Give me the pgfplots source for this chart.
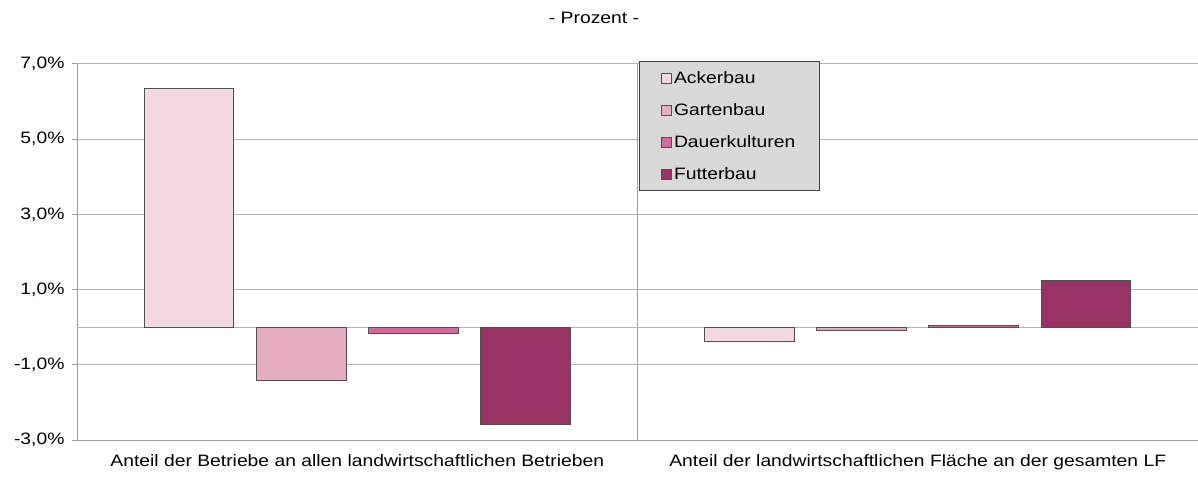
\documentclass[border=0pt]{standalone}
\usepackage{fontspec}
\setmainfont[FakeStretch=1.17]{Liberation Sans}
\usepackage{pgfplots}
\pgfplotsset{compat=1.18}
\definecolor{cAcker}{HTML}{F3D8E2}
\definecolor{cGarten}{HTML}{E4AEBE}
\definecolor{cDauer}{HTML}{D06B9C}
\definecolor{cFutter}{HTML}{993366}
\definecolor{gridc}{HTML}{B4B4B4}
\definecolor{axisc}{HTML}{A0A0A0}
\definecolor{legbg}{HTML}{D9D9D9}
\definecolor{barline}{HTML}{505050}
\begin{document}
\begin{tikzpicture}
\begin{axis}[
  name=ax,
  scale only axis,
  width=1121pt, height=376pt,
  xmin=-0.5, xmax=1.5,
  ymin=-3, ymax=7,
  axis x line*=bottom,
  axis y line*=left,
  axis line style={draw=axisc, line width=1pt},
  xtick={0,1},
  xticklabels={Anteil der Betriebe an allen landwirtschaftlichen Betrieben, Anteil der landwirtschaftlichen Fläche an der gesamten LF},
  x tick style={draw=none},
  ytick={-3,-1,1,3,5,7},
  yticklabels={{-3,0\%},{-1,0\%},{1,0\%},{3,0\%},{5,0\%},{7,0\%}},
  tick align=outside,
  major tick length=5pt,
  y tick style={draw=axisc, line width=1pt},
  ymajorgrids,
  grid style={draw=gridc, line width=1pt},
  extra y ticks={0},
  extra y tick labels={},
  extra y tick style={major tick length=0pt, grid=major},
  ticklabel style={font=\fontsize{16.5}{19}\selectfont, text=black},
  yticklabel style={xshift=-4pt},
  xticklabel style={yshift=-6pt},
  legend style={
    at={(rel axis cs:0.5013,1.008)}, anchor=north west,
    fill=legbg, draw=black!75, line width=1pt,
    font=\fontsize{16.5}{19}\selectfont,
    inner xsep=22pt, inner ysep=8pt,
    row sep=14.5pt,
    cells={anchor=west},
  },
  legend image code/.code={\draw[#1, line width=0.6pt] (0pt,-5pt) rectangle (10pt,5pt);},
  clip=false,
]
\draw[draw=axisc, line width=1pt] (axis cs:0.5,-3) -- (axis cs:0.5,7);
\addplot[ybar, bar width=0.16, bar shift=-0.3, fill=cAcker, draw=barline, line width=1pt]
  coordinates {(0,6.36) (1,-0.37)};
\addplot[ybar, bar width=0.16, bar shift=-0.1, fill=cGarten, draw=barline, line width=1pt]
  coordinates {(0,-1.43) (1,-0.08)};
\addplot[ybar, bar width=0.16, bar shift=0.1, fill=cDauer, draw=barline, line width=1pt]
  coordinates {(0,-0.16) (1,0.04)};
\addplot[ybar, bar width=0.16, bar shift=0.3, fill=cFutter, draw=barline, line width=1pt]
  coordinates {(0,-2.58) (1,1.24)};
\legend{Ackerbau, Gartenbau, Dauerkulturen, Futterbau}
\node[font=\fontsize{16.5}{19}\selectfont] at (rel axis cs:0.4612,1.1223) {- Prozent -};
\end{axis}
\pgfresetboundingbox
\path[use as bounding box] ([xshift=-77pt,yshift=-37pt]ax.south west) rectangle ([yshift=64pt]ax.north east);
\end{tikzpicture}
\end{document}
